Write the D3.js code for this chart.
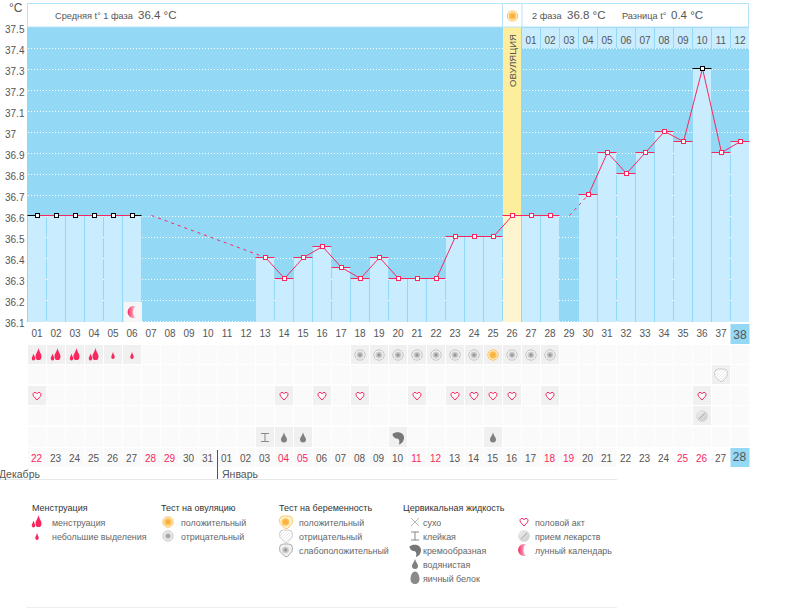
<!DOCTYPE html>
<html>
<head>
<meta charset="utf-8">
<script src="https://d3js.org/d3.v7.min.js"></script>
<style>
  body { margin: 0; background: #fff; }
  svg { display: block; }
  text { font-family: "Liberation Sans", Arial, sans-serif; font-size: 9.5px; fill: #555; }
  .axis path, .axis line { display: none; }
</style>
</head>
<body>
<svg width="787" height="608"></svg>
<script>
// cycle days 1..38
var days = d3.range(1, 39);
var temps = [36.6, 36.6, 36.6, 36.6, 36.6, 36.6, null, null, null, null, null, null,
  36.4, 36.3, 36.4, 36.45, 36.35, 36.3, 36.4, 36.3, 36.3, 36.3, 36.5, 36.5, 36.5, 36.6,
  36.6, 36.6, null, 36.7, 36.9, 36.8, 36.9, 37, 36.95, 37.3, 36.9, 36.95];
var yTicks = [37.5, 37.4, 37.3, 37.2, 37.1, 37, 36.9, 36.8, 36.7, 36.6, 36.5, 36.4, 36.3, 36.2, 36.1];
var dates = ['22','23','24','25','26','27','28','29','30','31','01','02','03','04','05','06','07','08','09',
  '10','11','12','13','14','15','16','17','18','19','20','21','22','23','24','25','26','27','28'];
var weekendDays = [1, 7, 8, 14, 15, 21, 22, 28, 29, 35, 36];   // red dates
var phase2Labels = ['01','02','03','04','05','06','07','08','09','10','11','12'];
var blackDays = [1, 2, 3, 4, 5, 6, 36];
var ovulationDay = 26;
var moonDay = 6;

// symbol rows under the chart: [day, icon]
var row1 = [[1,'mens'],[2,'mens'],[3,'mens'],[4,'mens'],[5,'spot'],[6,'spot'],
  [18,'ovuNeg'],[19,'ovuNeg'],[20,'ovuNeg'],[21,'ovuNeg'],[22,'ovuNeg'],[23,'ovuNeg'],[24,'ovuNeg'],
  [25,'ovuPos'],[26,'ovuNeg'],[27,'ovuNeg'],[28,'ovuNeg']];
var row2 = [[37,'pregNeg']];
var row3 = [1,14,16,18,21,23,24,25,26,28,36].map(function(d) { return [d,'heart']; });
var row4 = [[36,'pill']];
var row5 = [[13,'sticky'],[14,'watery'],[15,'watery'],[20,'creamy'],[25,'watery']];

var legendTitles = ['Менструация', 'Тест на овуляцию', 'Тест на беременность', 'Цервикальная жидкость'];
var legendItems = [
  [0, 0, 'mens', 'менструация'], [0, 1, 'spot', 'небольшие выделения'],
  [1, 0, 'ovuPos', 'положительный'], [1, 1, 'ovuNeg', 'отрицательный'],
  [2, 0, 'pregPos', 'положительный'], [2, 1, 'pregNeg', 'отрицательный'], [2, 2, 'pregWeak', 'слабоположительный'],
  [3, 0, 'dry', 'сухо'], [3, 1, 'sticky', 'клейкая'], [3, 2, 'creamy', 'кремообразная'], [3, 3, 'watery', 'водянистая'], [3, 4, 'egg', 'яичный белок'],
  [4, 0, 'heart', 'половой акт'], [4, 1, 'pill', 'прием лекарств'], [4, 2, 'moon', 'лунный календарь']
];

var BLUE = '#93d8f5', BAR = '#c9ecfe', PINK = '#f8285f', CELL = '#fbfafa', CELLON = '#f1f0f0';

var svg = d3.select('svg');
var x = d3.scaleBand().domain(days).range([28, 750]);
var y = d3.scaleLinear().domain([36.1, 37.5]).range([321.5, 27.5]);
var bw = x.bandwidth() - 1;
var cx = function(d) { return x(d) + 9.5; };
// marks sit a pixel above the grid line in the original
var my = function(v) { return Math.round(y(v) - 1.5) + 0.5; };

var defs = svg.append('defs');
function radial(id, stops) {
  var g = defs.append('radialGradient').attr('id', id);
  stops.forEach(function(s) { g.append('stop').attr('offset', s[0]).attr('stop-color', s[1]); });
}
radial('gOrange', [[0, '#f9a92e'], [1, '#fcc668']]);
radial('gGray', [[0, '#808080'], [0.5, '#bdbdbd'], [1, '#e2e2e2']]);
var mg = defs.append('linearGradient').attr('id', 'gMoon');
mg.append('stop').attr('offset', 0).attr('stop-color', '#f8285f');
mg.append('stop').attr('offset', 1).attr('stop-color', '#fbd3de');
var pillG = defs.append('linearGradient').attr('id', 'gPill').attr('x1', 0).attr('y1', 0).attr('x2', 1).attr('y2', 1);
pillG.append('stop').attr('offset', 0).attr('stop-color', '#f2f2f2');
pillG.append('stop').attr('offset', 1).attr('stop-color', '#c8c8c8');
var pg = defs.append('pattern').attr('id', 'hatch').attr('width', 3).attr('height', 3)
  .attr('patternUnits', 'userSpaceOnUse');
pg.append('rect').attr('width', 3).attr('height', 3).attr('fill', '#fff');
pg.append('path').attr('d', 'M0,3L3,0').attr('stroke', '#ddd').attr('stroke-width', 0.7);

// icon drawing, g is centred on the cell
function dropPath(cx, cy, w, h) {
  return 'M' + cx + ',' + (cy - h / 2) +
    'C' + (cx + w * 0.2) + ',' + (cy - h * 0.1) + ' ' + (cx + w / 2) + ',' + cy + ' ' + (cx + w / 2) + ',' + (cy + h * 0.2) +
    'A' + (w / 2) + ',' + (h * 0.3) + ' 0 0 1 ' + (cx - w / 2) + ',' + (cy + h * 0.2) +
    'C' + (cx - w / 2) + ',' + cy + ' ' + (cx - w * 0.2) + ',' + (cy - h * 0.1) + ' ' + cx + ',' + (cy - h / 2) + 'Z';
}
var shield = 'M-6.5,-2.5Q-6,-6 -2.5,-6L2.5,-6Q6,-6 6.5,-2.5L6,1.5L1.5,6.5Q0,7 -1.5,6L-6,1.5Z';
function drawIcon(g, name) {
  if (name == 'mens') {
    g.append('path').attr('d', dropPath(1.5, -1, 6, 12)).attr('fill', PINK);
    g.append('path').attr('d', dropPath(-3.5, 2, 3.5, 7)).attr('fill', PINK);
  } else if (name == 'spot') {
    g.append('path').attr('d', dropPath(0, 0.5, 3.5, 7)).attr('fill', PINK);
  } else if (name == 'ovuPos') {
    g.append('circle').attr('r', 5.2).attr('fill', '#fff2cc').attr('stroke', '#fcc668');
    g.append('circle').attr('r', 3.8).attr('fill', 'url(#gOrange)');
  } else if (name == 'ovuNeg') {
    g.append('circle').attr('r', 5.2).attr('fill', '#f7f7f7').attr('stroke', '#c4c4c4');
    g.append('circle').attr('r', 3.8).attr('fill', 'url(#gGray)');
  } else if (name == 'pregNeg') {
    g.append('path').attr('d', shield).attr('fill', 'url(#hatch)').attr('stroke', '#c4c4c4').attr('stroke-width', 0.8);
  } else if (name == 'pregPos') {
    g.append('path').attr('d', shield).attr('fill', '#fff2cc').attr('stroke', '#fcc668');
    g.append('circle').attr('r', 3.8).attr('cx', -0.5).attr('fill', 'url(#gOrange)');
  } else if (name == 'pregWeak') {
    g.append('path').attr('d', shield).attr('fill', '#f2f2f2').attr('stroke', '#aaa');
    g.append('circle').attr('r', 3.8).attr('cx', -0.5).attr('fill', 'url(#gGray)');
  } else if (name == 'heart') {
    g.append('path').attr('d', 'M0,4L-3.4,0.3C-4.8,-1.5 -3.7,-3.6 -2,-3.6C-1.1,-3.6 -0.4,-3 0,-2.2C0.4,-3 1.1,-3.6 2,-3.6C3.7,-3.6 4.8,-1.5 3.4,0.3Z')
      .attr('fill', '#fff').attr('stroke', PINK).attr('stroke-width', 1);
  } else if (name == 'pill') {
    g.append('circle').attr('r', 5.5).attr('fill', 'url(#gPill)').attr('stroke', '#d4d4d4').attr('stroke-width', 0.6);
    g.append('path').attr('d', 'M-3.2,3.2L3.2,-3.2').attr('stroke', '#999').attr('stroke-width', 0.8);
  } else if (name == 'moon') {
    g.append('path').attr('d', 'M2.5,-5.5A6,6 0 1 0 2.5,5.5A3,5.5 0 0 1 2.5,-5.5Z').attr('fill', 'url(#gMoon)');
  } else if (name == 'dry') {
    g.append('path').attr('d', 'M-4,-4L4,4M-4,4L4,-4').attr('stroke', '#999').attr('stroke-width', 0.7);
  } else if (name == 'sticky') {
    g.append('path').attr('d', 'M-4,-4H4M-4,4H4M0,-4V4').attr('stroke', '#888').attr('stroke-width', 1);
  } else if (name == 'creamy') {
    g.append('path').attr('d', 'M-5.5,-3.5C-2,-6.5 6,-5.5 6,0C6,3 4,6.5 1,7C2,3 1,1.5 -1,1C-3,1 -5.5,-1 -5.5,-3.5Z').attr('fill', '#777');
  } else if (name == 'watery') {
    g.append('path').attr('d', dropPath(0, 0, 6, 10)).attr('fill', '#808080');
  } else if (name == 'egg') {
    g.append('path').attr('d', 'M0,-6.5C3,-6.5 4.5,-2 4.5,1C4.5,4 2.5,6 0,6C-2.5,6 -4.5,4 -4.5,1C-4.5,-2 -3,-6.5 0,-6.5Z').attr('fill', '#8a8a8a');
  }
}

// ---- chart area
svg.append('rect').attr('x', 27).attr('y', 27).attr('width', 722).attr('height', 295).attr('fill', BLUE);

svg.append('g').selectAll('line').data(yTicks.slice(1)).enter().append('line')
  .attr('x1', 28).attr('x2', 749)
  .attr('y1', function(d) { return y(d); }).attr('y2', function(d) { return y(d); })
  .attr('stroke', '#fff').attr('stroke-dasharray', '1 2');

// yellow ovulation column sits behind the bar
svg.append('rect').attr('x', x(ovulationDay)).attr('y', 27).attr('width', bw).attr('height', 295).attr('fill', '#fdee9e');

var known = days.filter(function(d) { return temps[d - 1] != null; });

svg.append('g').selectAll('rect').data(known).enter().append('rect')
  .attr('x', function(d) { return x(d); })
  .attr('width', bw)
  .attr('y', function(d) { return my(temps[d - 1]) - 0.5; })
  .attr('height', function(d) { return 322 - my(temps[d - 1]) + 0.5; })
  .attr('fill', function(d) { return d == ovulationDay ? '#fdf5cf' : BAR; });

// phase 2 day numbers on top
var topCells = svg.append('g').selectAll('g').data(phase2Labels).enter().append('g')
  .attr('transform', function(d, i) { return 'translate(' + x(ovulationDay + 1 + i) + ',28)'; });
topCells.append('rect').attr('width', bw).attr('height', 20).attr('fill', BAR);
topCells.append('text').attr('x', 9).attr('y', 16).attr('text-anchor', 'middle').style('font-size', '10px').text(function(d) { return d; });

svg.append('text').attr('transform', 'translate(' + (cx(ovulationDay) + 3.5) + ',87) rotate(-90)')
  .style('font-size', '9.5px').text('ОВУЛЯЦИЯ');

// caps
svg.append('g').selectAll('line').data(known).enter().append('line')
  .attr('x1', function(d) { return x(d) - 0.5; })
  .attr('x2', function(d) { return x(d) + 18.5; })
  .attr('y1', function(d) { return my(temps[d - 1]); })
  .attr('y2', function(d) { return my(temps[d - 1]); })
  .attr('stroke', function(d) { return blackDays.indexOf(d) >= 0 ? '#000' : PINK; });

// solid line, breaks where a day has no reading
var line = d3.line()
  .defined(function(d) { return temps[d - 1] != null; })
  .x(cx)
  .y(function(d) { return my(temps[d - 1]); });
svg.append('path').attr('d', line(days)).attr('fill', 'none').attr('stroke', PINK);

// dashed bridge: starts on the first empty day at the last known level
var bridges = days.filter(function(d) { return temps[d - 1] == null && temps[d - 2] != null; }).map(function(d) {
  var next = d;
  while (temps[next - 1] == null) next++;
  return [[cx(d), my(temps[d - 2])], [cx(next), my(temps[next - 1])]];
});
svg.append('g').selectAll('path').data(bridges).enter().append('path')
  .attr('d', d3.line())
  .attr('fill', 'none').attr('stroke', PINK).attr('stroke-dasharray', '3 4');

// markers
svg.append('g').selectAll('rect').data(known).enter().append('rect')
  .attr('x', function(d) { return cx(d) - 2; })
  .attr('y', function(d) { return my(temps[d - 1]) - 2; })
  .attr('width', 4).attr('height', 4)
  .attr('fill', '#fff')
  .attr('stroke', function(d) { return blackDays.indexOf(d) >= 0 ? '#000' : PINK; })
  .attr('stroke-width', 1);

// moon cell in the bottom of the chart
svg.append('rect').attr('x', x(moonDay) + 1).attr('y', 302).attr('width', 18).attr('height', 20).attr('fill', '#f6f5f5');
drawIcon(svg.append('g').attr('transform', 'translate(' + (cx(moonDay) + 1) + ',312)'), 'moon');

// ---- header
function box(bx, bw2) {
  svg.append('rect').attr('x', bx + 0.5).attr('y', 3.5).attr('width', bw2).attr('height', 23.5)
    .attr('fill', '#fff').attr('stroke', '#b5e3f7');
}
box(27, 475); box(502, 20); box(521.5, 226.5);
drawIcon(svg.append('g').attr('transform', 'translate(512.5,16)'), 'ovuPos');
function headText(tx, s, big) {
  svg.append('text').attr('x', tx).attr('y', 19).style('font-size', big ? '11.5px' : '9.2px').text(s);
}
headText(55, 'Средняя t° 1 фаза'); headText(138, '36.4 °C', true);
headText(532, '2 фаза'); headText(567, '36.8 °C', true);
headText(622, 'Разница t°'); headText(671, '0.4 °C', true);

// ---- axes
svg.append('text').attr('x', 9).attr('y', 12).style('font-size', '12px').text('°C');
svg.append('g').attr('class', 'axis').attr('transform', 'translate(5,2)')
  .call(d3.axisLeft(y).tickValues(yTicks).tickSize(0).tickPadding(0).tickFormat(function(d) { return d; }))
  .call(function(g) {
    g.selectAll('text').attr('x', 0).attr('text-anchor', 'start')
      .style('font-size', '10px').style('fill', '#555').style('font-family', null);
  });

svg.append('rect').attr('x', x(38) - 0.5).attr('y', 324).attr('width', 19).attr('height', 20).attr('fill', BLUE);
svg.append('g').attr('class', 'axis').attr('transform', 'translate(-0.5,330)')
  .call(d3.axisBottom(x).tickSize(0).tickPadding(0).tickFormat(function(d) { return d3.format('02')(d); }))
  .call(function(g) {
    g.selectAll('text').style('font-size', function(d) { return d == 38 ? '12px' : '10px'; })
      .style('fill', '#555').style('font-family', null);
  });

// ---- symbol rows
var rows = [[345, 19, row1], [365, 19, row2], [386, 19, row3], [406, 19, row4], [427, 20, row5]];
rows.forEach(function(r) {
  var on = r[2].map(function(e) { return e[0]; });
  svg.append('g').selectAll('rect').data(days).enter().append('rect')
    .attr('x', function(d) { return x(d); }).attr('y', r[0])
    .attr('width', bw).attr('height', r[1])
    .attr('fill', function(d) { return on.indexOf(d) >= 0 ? CELLON : CELL; });
  r[2].forEach(function(e) {
    drawIcon(svg.append('g').attr('transform', 'translate(' + (cx(e[0]) - 0.5) + ',' + (r[0] + r[1] / 2 + 0.5) + ')'), e[1]);
  });
});

// ---- date row
svg.append('g').selectAll('rect').data(days.slice(0, 31)).enter().append('rect')
  .attr('x', function(d) { return x(d); }).attr('y', 448).attr('width', bw).attr('height', 19).attr('fill', CELL);
svg.append('rect').attr('x', x(38) - 0.5).attr('y', 448).attr('width', 19).attr('height', 19).attr('fill', BLUE);
svg.append('g').selectAll('text').data(days).enter().append('text')
  .attr('x', function(d) { return cx(d) - 1; })
  .attr('y', function(d) { return d == 38 ? 461 : 462; })
  .attr('text-anchor', 'middle')
  .style('font-size', function(d) { return d == 38 ? '12px' : '10px'; })
  .style('fill', function(d) { return weekendDays.indexOf(d) >= 0 ? PINK : '#555'; })
  .text(function(d) { return dates[d - 1]; });

svg.append('line').attr('x1', 0).attr('x2', 617).attr('y1', 479.5).attr('y2', 479.5).attr('stroke', '#e8e8e8');
svg.append('line').attr('x1', 217.5).attr('x2', 217.5).attr('y1', 450).attr('y2', 479).attr('stroke', '#555');
svg.append('text').attr('x', -1).attr('y', 478).style('font-size', '10.5px').text('Декабрь');
svg.append('text').attr('x', 222).attr('y', 478).style('font-size', '10.5px').text('Январь');

// ---- legend
var titleX = [32, 161, 279, 403];
var iconX = [37, 168, 286, 415, 524];
var textX = [52, 181, 299, 423, 535];
svg.append('g').selectAll('text').data(legendTitles).enter().append('text')
  .attr('x', function(d, i) { return titleX[i]; }).attr('y', 511)
  .style('font-size', '9px').style('fill', '#333').text(function(d) { return d; });
legendItems.forEach(function(it) {
  var ly = 522 + it[1] * 14;
  drawIcon(svg.append('g').attr('transform', 'translate(' + iconX[it[0]] + ',' + ly + ')'), it[2]);
  svg.append('text').attr('x', textX[it[0]]).attr('y', ly + 3.5)
    .style('font-size', '8.9px').style('fill', '#666').text(it[3]);
});
svg.append('line').attr('x1', 26).attr('x2', 617).attr('y1', 607.5).attr('y2', 607.5).attr('stroke', '#eee');
</script>
</body>
</html>
